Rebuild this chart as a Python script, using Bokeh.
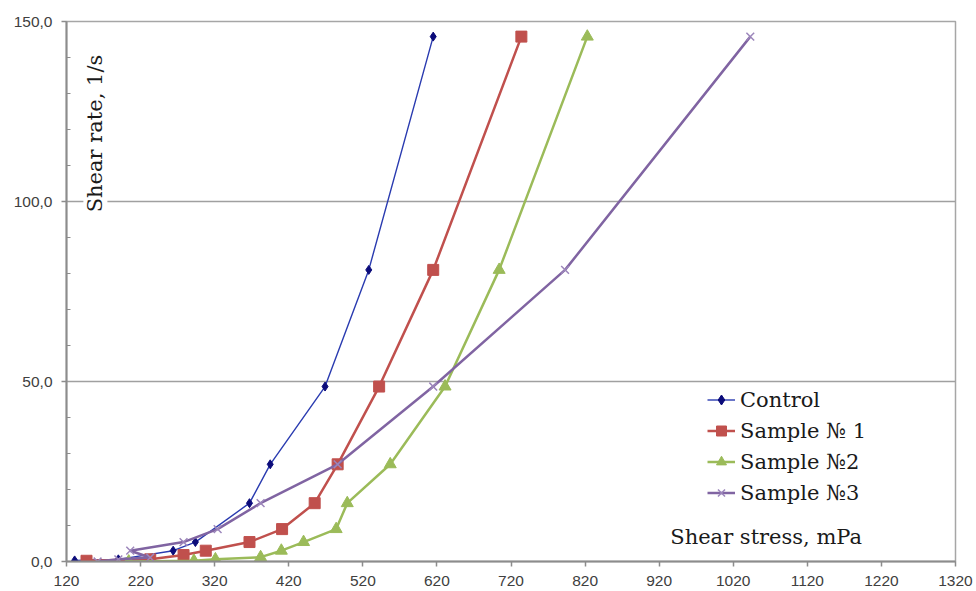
from math import pi
from bokeh.plotting import figure
from bokeh.models import Range1d, FixedTicker, Label, Legend, LegendItem
from bokeh.embed import file_html
from bokeh.resources import INLINE

# ---- data (shear stress, mPa  vs  shear rate, 1/s) ----
control_x = [131, 190, 264, 294, 367, 395, 469, 528, 615]
control_y = [0.3, 0.6, 3.0, 5.4, 16.2, 27.0, 48.6, 81.0, 145.8]

s1_x = [147, 233, 278, 308, 367, 411, 455, 486, 542, 615, 734]
s1_y = [0.2, 0.6, 1.8, 3.0, 5.4, 9.0, 16.2, 27.0, 48.6, 81.0, 145.8]

s2_x = [204, 292, 321, 382, 410, 440, 484, 499, 557, 631, 704, 823]
s2_y = [0.0, 0.2, 0.6, 1.2, 3.0, 5.4, 9.0, 16.2, 27.0, 48.6, 81.0, 145.8]

s3_x = [162, 190, 233, 206, 278, 324, 382, 486, 615, 793, 1043]
s3_y = [0.0, 0.6, 1.1, 3.0, 5.4, 9.0, 16.2, 27.0, 48.6, 81.0, 145.8]

x_ticks = [120, 220, 320, 420, 520, 620, 720, 820, 920, 1020, 1120, 1220, 1320]
y_ticks = [0, 50, 100, 150]
y_tick_labels = ["0,0", "50,0", "100,0", "150,0"]
y_minor = [10, 20, 30, 40, 60, 70, 80, 90, 110, 120, 130, 140]

names = ["Control", "Sample № 1", "Sample №2", "Sample №3"]

p = figure(frame_width=889, frame_height=540,
           x_range=Range1d(120, 1320), y_range=Range1d(0, 150),
           output_backend="svg", toolbar_location=None,
           min_border_left=66, min_border_top=21, min_border_right=21,
           min_border_bottom=30)
p.background_fill_color = "white"
p.border_fill_color = "white"
p.outline_line_color = "#a6a6a6"
p.outline_line_width = 1.5

# axes
p.xaxis.ticker = FixedTicker(ticks=x_ticks, minor_ticks=[])
p.yaxis.ticker = FixedTicker(ticks=y_ticks, minor_ticks=y_minor)
p.yaxis.major_label_overrides = {t: l for t, l in zip(y_ticks, y_tick_labels)}
for ax in (p.xaxis[0], p.yaxis[0]):
    ax.axis_line_color = "#8c8c8c"
    ax.axis_line_width = 2
    ax.major_tick_line_color = "#8c8c8c"
    ax.major_tick_line_width = 1.5
    ax.major_tick_in = 0
    ax.major_tick_out = 5
    ax.major_label_text_font = "Liberation Sans"
    ax.major_label_text_font_size = "15.5px"
    ax.major_label_text_color = "#404040"
p.yaxis.minor_tick_line_color = "#8c8c8c"
p.yaxis.minor_tick_in = 4
p.yaxis.minor_tick_out = 0
p.xaxis.minor_tick_line_color = None
p.yaxis.major_label_standoff = 9
p.xaxis.major_label_standoff = 9

p.xgrid.visible = False
p.ygrid.ticker = FixedTicker(ticks=y_ticks, minor_ticks=[])
p.ygrid.grid_line_color = "#a0a0a0"
p.ygrid.grid_line_width = 1.5

# axis title labels inside the frame
ylab = Label(x=159, y=97, text="Shear rate, 1/s", angle=pi / 2,
             text_align="left", text_baseline="middle",
             text_font="DejaVu Serif", text_font_size="21px", text_color="#1a1a1a",
             background_fill_color="white")
p.add_layout(ylab)
xlab = Label(x=935, y=6.7, text="Shear stress, mPa",
             text_align="left", text_baseline="middle",
             text_font="DejaVu Serif", text_font_size="21px", text_color="#1a1a1a")
p.add_layout(xlab)

# series
l0 = p.line(control_x, control_y, line_color="#2a3bb0", line_width=1.4)
m0 = p.scatter(control_x, control_y, marker="diamond", size=9,
               fill_color="#0b0b7a", line_color="#0b0b7a")

l1 = p.line(s1_x, s1_y, line_color="#c0504d", line_width=2.5)
m1 = p.scatter(s1_x, s1_y, marker="square", size=11,
               fill_color="#c0504d", line_color="#c0504d")

l2 = p.line(s2_x, s2_y, line_color="#9bbb59", line_width=2.5)
m2 = p.scatter(s2_x, s2_y, marker="triangle", size=12,
               fill_color="#9bbb59", line_color="#9bbb59")

l3 = p.line(s3_x, s3_y, line_color="#8064a2", line_width=2.5)
m3 = p.scatter(s3_x, s3_y, marker="x", size=11, line_width=1.5,
               line_color="#9c86bb")

items = [LegendItem(label=names[0], renderers=[l0, m0]),
         LegendItem(label=names[1], renderers=[l1, m1]),
         LegendItem(label=names[2], renderers=[l2, m2]),
         LegendItem(label=names[3], renderers=[l3, m3])]
legend = Legend(items=items, location=(638, 53), padding=3, spacing=6,
                glyph_height=25, glyph_width=28, label_standoff=5,
                label_text_font="DejaVu Serif", label_text_font_size="21px",
                label_text_color="#1a1a1a", label_height=25,
                background_fill_alpha=0, border_line_alpha=0, margin=0)
p.add_layout(legend)

open("out.html", "w").write(file_html(p, INLINE))
